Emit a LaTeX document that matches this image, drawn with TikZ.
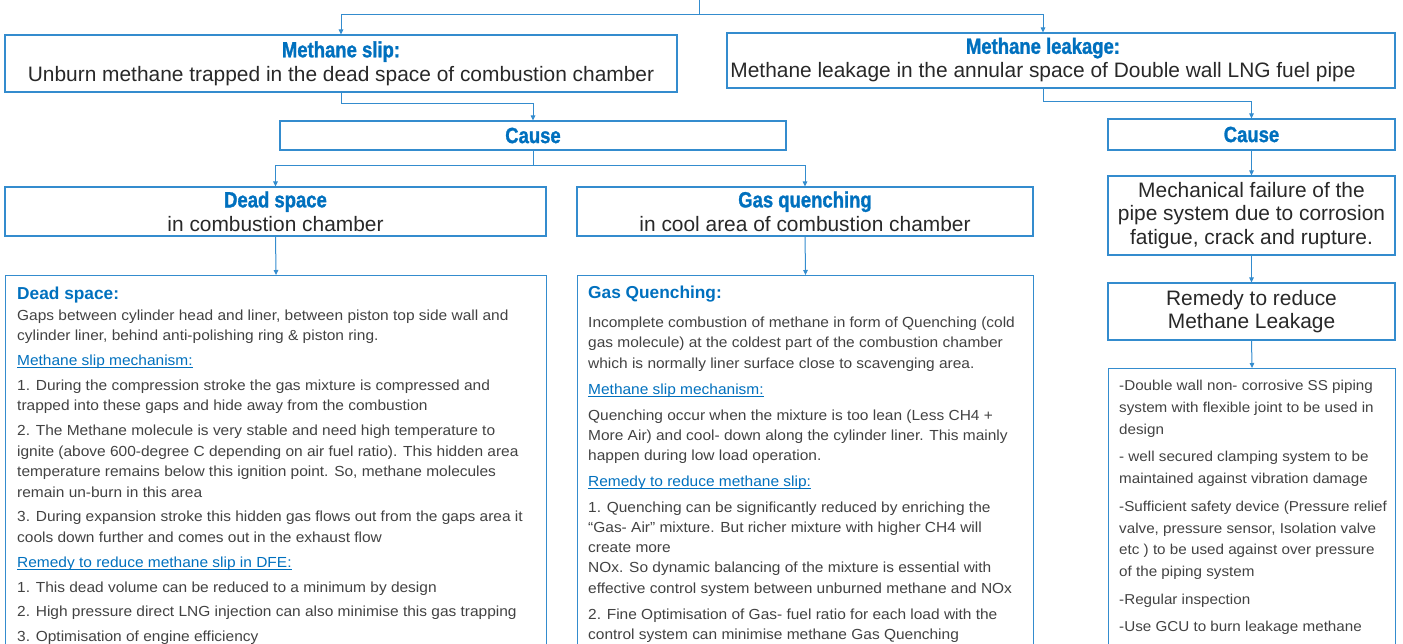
\documentclass[tikz,border=0pt]{standalone}
\usepackage{fontspec}
\setmainfont{Liberation Sans}
\newfontfamily\headfont[FakeStretch=0.84,FakeBold=1.2]{Liberation Sans}
\newfontfamily\bodyfont[FakeStretch=1.06]{Liberation Sans}
\usetikzlibrary{arrows.meta}
\definecolor{lineblue}{RGB}{52,140,206}
\definecolor{titleblue}{RGB}{0,112,190}
\definecolor{bodygray}{RGB}{66,66,66}
\definecolor{headgray}{RGB}{40,40,40}
\newsavebox{\linkbox}
\newcommand{\headline}[1]{{\headfont\bfseries\fontsize{22}{24}\selectfont\color{titleblue}#1}}
\newcommand{\boxtitle}[1]{{\normalfont\bfseries\fontsize{17.3}{20}\selectfont\color{titleblue}#1}}
\newcommand{\linkline}[1]{{\color{titleblue}\sbox{\linkbox}{#1}\rlap{\rule[-2.4pt]{\wd\linkbox}{0.8pt}}\usebox{\linkbox}}}
\begin{document}
\begin{tikzpicture}[x=1pt,y=-1pt,
	boxline/.style={draw=lineblue,line width=1.1pt,inner sep=0pt},
	topbox/.style={boxline,align=center,text=headgray,font=\fontsize{20.9}{24}\selectfont},
	plainbox/.style={boxline,align=center,text=headgray,font=\fontsize{20.9}{23.5}\selectfont},
	conn/.style={draw=lineblue,line width=1pt},
	arr/.style={conn,-{Triangle[length=5pt,width=4.5pt]}},
	bodytext/.style={align=left,inner sep=0pt,anchor=north west,text=bodygray,font=\bodyfont\fontsize{14.6}{20.5}\selectfont}]
	\useasboundingbox (0,0) rectangle (1403,643);
	
	%top row
	\node[topbox,minimum width=672,minimum height=57] (slip) at (341,63.5)
		{\headline{Methane slip:}\\Unburn methane trapped in the dead space of combustion chamber};
	\node[boxline,minimum width=668,minimum height=55] (leak) at (1061,60.5) {};
	\node[topbox,draw=none] (leaktext) at (1043,60)
		{\headline{Methane leakage:}\\Methane leakage in the annular space of Double wall LNG fuel pipe};
	
	%cause row
	\node[boxline,minimum width=506,minimum height=29] (causeL) at (533,135.5) {\headline{Cause}};
	\node[boxline,minimum width=287,minimum height=31] (causeR) at (1251.5,134.5) {\headline{Cause}};
	
	%second row
	\node[topbox,minimum width=541,minimum height=49] (deadhead) at (275.5,211.5)
		{\headline{Dead space}\\in combustion chamber};
	\node[topbox,minimum width=456,minimum height=49] (gashead) at (805,211.5)
		{\headline{Gas quenching}\\in cool area of combustion chamber};
	\node[plainbox,minimum width=287,minimum height=79] (mech) at (1251.5,215.5)
		{Mechanical failure of the\\pipe system due to corrosion\\fatigue, crack and rupture.};
	\node[plainbox,minimum width=287,minimum height=57] (remedy) at (1251.5,311.5)
		{Remedy to reduce\\Methane Leakage};
	
	%detail boxes
	\node[boxline,anchor=north west,minimum width=541,minimum height=430] (deadbox) at (5,275) {};
	\node[boxline,anchor=north west,minimum width=456,minimum height=430] (gasbox) at (577,275) {};
	\node[boxline,anchor=north west,minimum width=287,minimum height=340] (listbox) at (1108,368) {};
	
	\node[bodytext] (deadtext) at (17,287) {\boxtitle{Dead space:}\\
		Gaps between cylinder head and liner, between piston top side wall and\\
		cylinder liner, behind anti-polishing ring \& piston ring.\\[4.3pt]
		\linkline{Methane slip mechanism:}\\[4.3pt]
		1. During the compression stroke the gas mixture is compressed and\\
		trapped into these gaps and hide away from the combustion\\[4.3pt]
		2. The Methane molecule is very stable and need high temperature to\\
		ignite (above 600-degree C depending on air fuel ratio). This hidden area\\
		temperature remains below this ignition point. So, methane molecules\\
		remain un-burn in this area\\[4.3pt]
		3. During expansion stroke this hidden gas flows out from the gaps area it\\
		cools down further and comes out in the exhaust flow\\[4.3pt]
		\linkline{Remedy to reduce methane slip in DFE:}\\[4.3pt]
		1. This dead volume can be reduced to a minimum by design\\[4.3pt]
		2. High pressure direct LNG injection can also minimise this gas trapping\\[4.3pt]
		3. Optimisation of engine efficiency};
	
	\node[bodytext,font=\bodyfont\fontsize{14.6}{20.1}\selectfont] (gastext) at (588,286) {\boxtitle{Gas Quenching:}\\[9pt]
		Incomplete combustion of methane in form of Quenching (cold\\
		gas molecule) at the coldest part of the combustion chamber\\
		which is normally liner surface close to scavenging area.\\[6pt]
		\linkline{Methane slip mechanism:}\\[6pt]
		Quenching occur when the mixture is too lean (Less CH4 +\\
		More Air) and cool- down along the cylinder liner. This mainly\\
		happen during low load operation.\\[6pt]
		\linkline{Remedy to reduce methane slip:}\\[6pt]
		1. Quenching can be significantly reduced by enriching the\\
		“Gas- Air” mixture. But richer mixture with higher CH4 will\\
		create more\\
		NOx. So dynamic balancing of the mixture is essential with\\
		effective control system between unburned methane and NOx\\[6pt]
		2. Fine Optimisation of Gas- fuel ratio for each load with the\\
		control system can minimise methane Gas Quenching};
	
	\node[bodytext,font=\bodyfont\fontsize{14.35}{21.9}\selectfont] (listtext) at (1119,380) {-Double wall non- corrosive SS piping\\
		system with flexible joint to be used in\\
		design\\[5.5pt]
		- well secured clamping system to be\\
		maintained against vibration damage\\[5.5pt]
		-Sufficient safety device (Pressure relief\\
		valve, pressure sensor, Isolation valve\\
		etc ) to be used against over pressure\\
		of the piping system\\[5.5pt]
		-Regular inspection\\[5.5pt]
		-Use GCU to burn leakage methane};
	
	%connectors
	\coordinate (top) at (699,0);
	\draw[conn] (top) -- ++(0,14) coordinate (split);
	\draw[arr] (split) -| (slip.north);
	\draw[arr] (split) -| (leaktext.north |- leak.north);
	\draw[arr] (slip.south) -- ++(0,11) -| (causeL.north);
	\draw[arr] (leaktext.south |- leak.south) -- ++(0,13) -| (causeR.north);
	\draw[conn] (causeL.south) -- ++(0,15) coordinate (fork);
	\draw[arr] (fork) -| (deadhead.north);
	\draw[arr] (fork) -| (gashead.north);
	\draw[arr] (deadhead.south) -- (deadbox.north);
	\draw[arr] (gashead.south) -- (gasbox.north);
	\draw[arr] (causeR.south) -- (mech.north);
	\draw[arr] (mech.south) -- (remedy.north);
	\draw[arr] (remedy.south) -- (listbox.north);
	
\end{tikzpicture}
\end{document}
